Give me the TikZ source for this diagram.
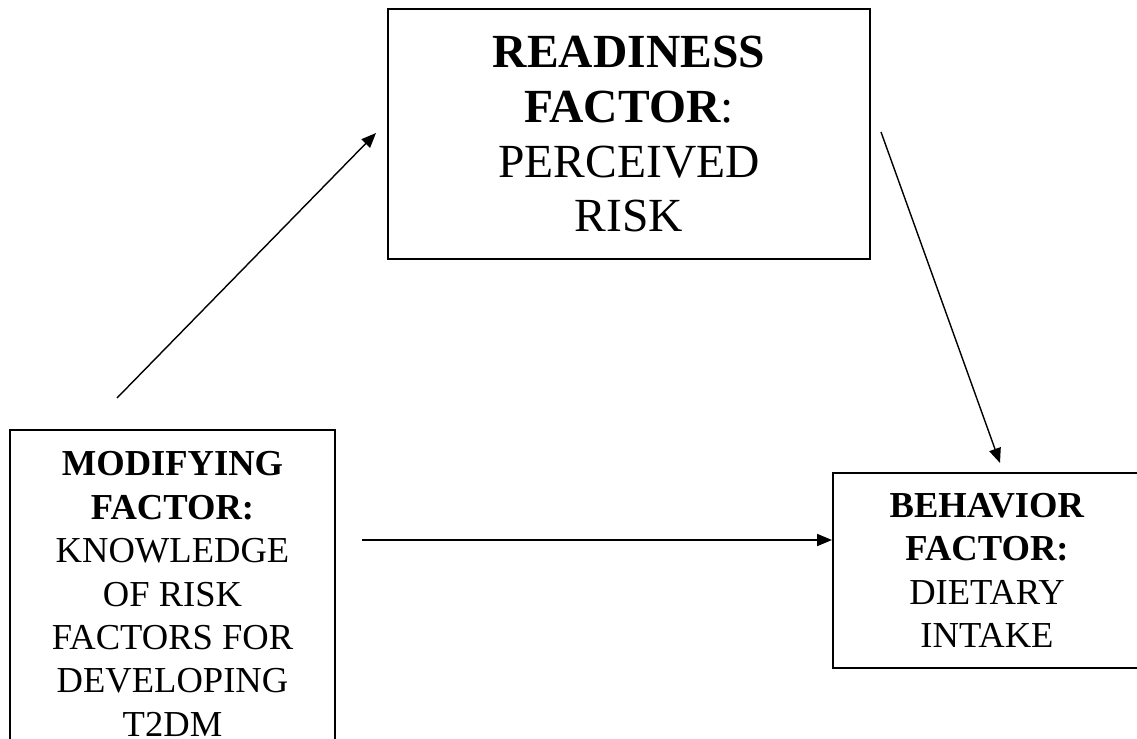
\documentclass[tikz,border=0pt]{standalone}
\usepackage{fontspec}
\setmainfont{Liberation Serif}
\usetikzlibrary{arrows.meta}

\begin{document}
\begin{tikzpicture}[x=0.025cm,y=-0.025cm,->,>={Triangle[length=10.5pt,width=8.5pt]},
                    factor box/.style={rectangle,draw,line width=1.4pt,align=center,inner sep=0pt},
                    big text/.style={font={\fontsize{33.8pt}{39.1pt}\selectfont}},
                    small text/.style={font={\fontsize{26pt}{30.9pt}\selectfont}}]
  \useasboundingbox (0,0) rectangle (1137,738);

  \node[factor box,big text,minimum width=12.05cm,minimum height=6.25cm] (readiness) at (629,134)
    {\textbf{READINESS}\\\textbf{FACTOR}:\\PERCEIVED\\RISK};
  \node[factor box,small text,minimum width=8.125cm,minimum height=8.2cm] (modifying) at (172.5,594)
    {\textbf{MODIFYING}\\\textbf{FACTOR:}\\KNOWLEDGE\\OF RISK\\FACTORS FOR\\DEVELOPING\\T2DM};
  \node[factor box,small text,minimum width=7.7cm,minimum height=4.875cm] (behavior) at (987,570.5)
    {\textbf{BEHAVIOR}\\\textbf{FACTOR:}\\DIETARY\\INTAKE};

  % free ends of the arrows
  \coordinate (mr1) at (117,398);
  \coordinate (mr2) at (376,133);
  \coordinate (rb1) at (881,132);
  \coordinate (rb2) at (1000,463);
  \coordinate (mb1) at (362,540);
  \coordinate (mb2) at (832,540);

  \path[line width=1pt]
    (mr1) edge (mr2)
    (rb1) edge (rb2)
    (mb1) edge (mb2);
\end{tikzpicture}
\end{document}
